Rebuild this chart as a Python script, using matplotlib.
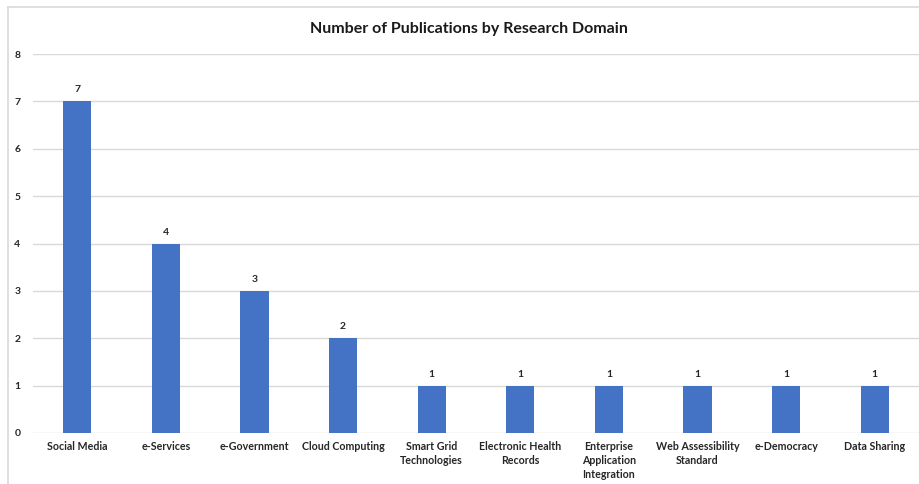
import matplotlib
matplotlib.use("Agg")
from matplotlib import pyplot as plt
from matplotlib.lines import Line2D

domains = ["Social Media", "e-Services", "e-Government", "Cloud Computing",
           "Smart Grid\nTechnologies", "Electronic Health\nRecords",
           "Enterprise\nApplication\nIntegration", "Web Assessibility\nStandard",
           "e-Democracy", "Data Sharing"]
counts = [7, 4, 3, 2, 1, 1, 1, 1, 1, 1]
yticks = [0, 1, 2, 3, 4, 5, 6, 7, 8]

plt.rcParams['font.family'] = ['Lato', 'DejaVu Sans']

fig = plt.figure(figsize=(9.19, 4.84), dpi=100)
ax = fig.add_axes([0.0359, 0.1054, 0.9641, 0.783])

x = range(len(domains))
bars = ax.bar(x, counts, width=0.32, color="#4472C4", zorder=3)
for b, v in zip(bars, counts):
    ax.annotate(str(v), (b.get_x() + b.get_width() / 2, v), xytext=(0, 5),
                textcoords="offset points", ha="center", va="bottom",
                fontsize=7.5, fontweight="bold", color="#262626")

ax.set_xlim(-0.5, len(domains) - 0.5)
ax.set_ylim(0, 8)
ax.set_yticks(yticks)
ax.set_xticks(list(x))
ax.set_xticklabels(domains, fontsize=7.7, fontweight="bold", color="#262626",
                   linespacing=1.3)
ax.set_yticklabels([str(t) for t in yticks], fontsize=7.5, fontweight="bold",
                   color="#262626")
ax.tick_params(length=0)
ax.tick_params(axis="y", pad=9)
ax.tick_params(axis="x", pad=6)
ax.grid(axis="y", color="#D9D9D9", linewidth=1, zorder=0)
for s in ax.spines.values():
    s.set_visible(False)

fig.text(0.51, 0.94, "Number of Publications by Research Domain",
         ha="center", va="center", fontsize=11.5, fontweight="bold",
         color="#1a1a1a")

# chart border
fig.add_artist(Line2D([8 / 919, 8 / 919], [0, 1 - 7 / 484],
                      transform=fig.transFigure, color="#D9D9D9", lw=1.2))
fig.add_artist(Line2D([8 / 919, 1], [1 - 7 / 484, 1 - 7 / 484],
                      transform=fig.transFigure, color="#D9D9D9", lw=1.2))

fig.savefig("out.png", dpi=100)
